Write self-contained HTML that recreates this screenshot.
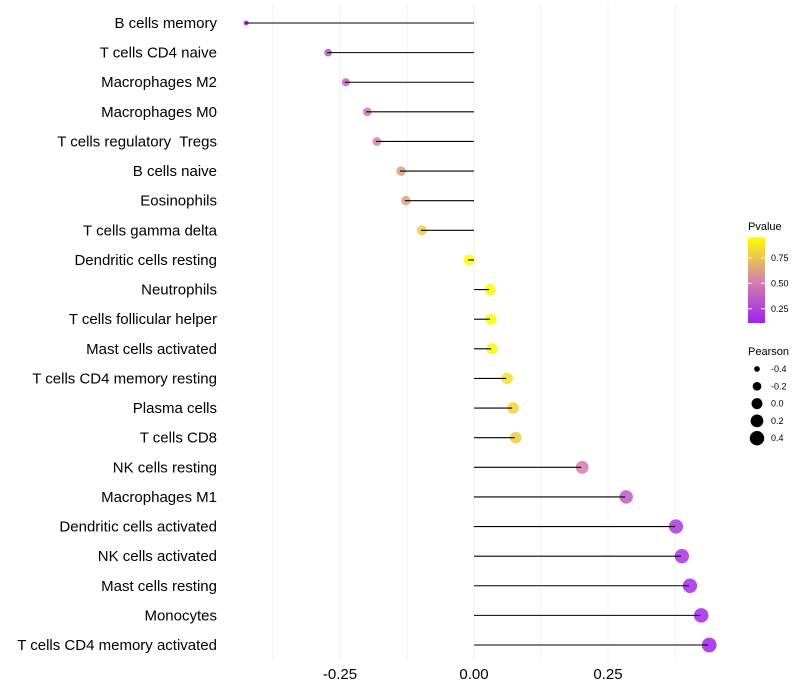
<!DOCTYPE html>
<html><head><meta charset="utf-8"><style>
body{margin:0;background:#fff;}
svg{display:block;font-family:"Liberation Sans",sans-serif;}
text{white-space:pre;}
</style></head><body>
<svg id="chart" width="800" height="700">
<defs><linearGradient id="pg" x1="0" y1="1" x2="0" y2="0">
<stop offset="0" stop-color="#A020F0"/><stop offset="0.5" stop-color="#D585A8"/><stop offset="1" stop-color="#FFFF00"/></linearGradient></defs>
<g id="grid"></g>
<g id="marks"></g>
<g id="ylabels"></g>
<g id="xlabels"></g>
<g>
<text x="748" y="230" font-size="11">Pvalue</text>
<rect x="748" y="237" width="17" height="86" fill="url(#pg)"/>
<g id="cbticks"></g>
</g>
<g id="sizeleg">
<text x="748" y="355" font-size="11">Pearson</text>
</g>
</svg>
<script>
const categories=["B cells memory","T cells CD4 naive","Macrophages M2","Macrophages M0","T cells regulatory  Tregs","B cells naive","Eosinophils","T cells gamma delta","Dendritic cells resting","Neutrophils","T cells follicular helper","Mast cells activated","T cells CD4 memory resting","Plasma cells","T cells CD8","NK cells resting","Macrophages M1","Dendritic cells activated","NK cells activated","Mast cells resting","Monocytes","T cells CD4 memory activated"];
const pearson=[-0.427,-0.274,-0.241,-0.201,-0.183,-0.138,-0.129,-0.099,-0.011,0.028,0.030,0.032,0.060,0.071,0.076,0.200,0.282,0.375,0.386,0.401,0.422,0.437];
const pvalues=[0.13,0.32,0.4,0.47,0.52,0.62,0.64,0.78,0.96,0.94,0.93,0.92,0.84,0.8,0.78,0.5,0.35,0.2,0.18,0.16,0.14,0.12];
const xTicks=[-0.25,0,0.25];
const xTickLabels=["-0.25","0.00","0.25"];
const xMinor=[-0.375,-0.125,0.125,0.375];
const cbTicks=[0.25,0.5,0.75];
const sizeLegend=[-0.4,-0.2,0.0,0.2,0.4];
const NS="http://www.w3.org/2000/svg";
const X=v=>474+v*536;
const Y=i=>23+i*(622/21);
const R=v=>Math.sqrt(Math.max(2,30+55*v));
function mk(t,a,p){const e=document.createElementNS(NS,t);for(const k in a)e.setAttribute(k,a[k]);p.appendChild(e);return e;}
function lerp(a,b,t){return a.map((x,i)=>Math.round(x+(b[i]-x)*t));}
function col(p){const t=Math.min(1,Math.max(0,(p-0.11)/(0.955-0.11)));const c0=[160,32,240],c1=[213,133,168],c2=[255,255,0];const c=t<0.5?lerp(c0,c1,t*2):lerp(c1,c2,(t-0.5)*2);return `rgb(${c})`;}
const grid=document.getElementById('grid');
xMinor.concat(xTicks).forEach(v=>{const l=mk('line',{x1:X(v),x2:X(v),y1:5,y2:660,stroke:'#f0f0f0','stroke-width':1},grid);

});
const marks=document.getElementById('marks'),yl=document.getElementById('ylabels'),xl=document.getElementById('xlabels');
categories.forEach((c,i)=>{
 const d=mk('circle',{cx:X(pearson[i])+1,cy:Y(i),r:R(pearson[i]),fill:col(pvalues[i]),'fill-opacity':0.85},marks);
 
 
 const l=mk('line',{x1:X(0),x2:X(pearson[i]),y1:Y(i),y2:Y(i),stroke:'#000','stroke-width':1.1},marks);
 
 
 const t=mk('text',{x:217,y:Y(i)+5,'text-anchor':'end','font-size':15,fill:'#000'},yl);t.textContent=c;
 
 
});
xTicks.forEach((v,i)=>{const t=mk('text',{x:X(v),y:679,'text-anchor':'middle','font-size':15,fill:'#000'},xl);t.textContent=xTickLabels[i];
 
 });
const cb=document.getElementById('cbticks');
cbTicks.forEach(p=>{const y=323-(p-0.11)/(0.955-0.11)*86;
 mk('line',{x1:748,x2:752,y1:y,y2:y,stroke:'#fff'},cb);mk('line',{x1:761,x2:765,y1:y,y2:y,stroke:'#fff'},cb);
 const t=mk('text',{x:771,y:y+3,'font-size':9},cb);t.textContent=p.toFixed(2);
 
 });
const sl=document.getElementById('sizeleg');
sizeLegend.forEach((v,i)=>{const y=369+i*17.3;
 const c=mk('circle',{cx:757,cy:y,r:R(v),fill:'#000'},sl);
 
 
 const t=mk('text',{x:771,y:y+3,'font-size':9},sl);t.textContent=v.toFixed(1);
 
 });
</script>
</body></html>
